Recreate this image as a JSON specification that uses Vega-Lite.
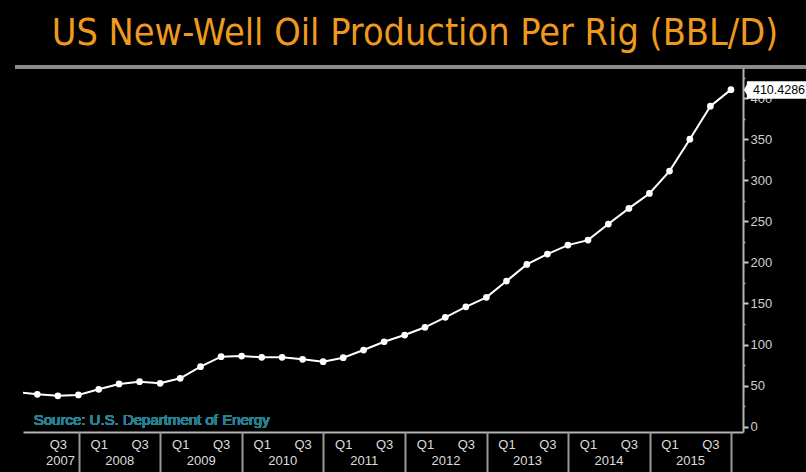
{
  "$schema": "https://vega.github.io/schema/vega-lite/v6.json",
  "width": 720,
  "height": 365,
  "autosize": {"type": "none"},
  "padding": {"left": 23, "top": 67, "right": 63, "bottom": 40},
  "background": "#000000",
  "config": {
    "view": {"stroke": null},
    "axis": {"grid": false, "labelFont": "Liberation Sans", "titleFont": "Liberation Sans"}
  },
  "title": {
    "text": "US New-Well Oil Production Per Rig (BBL/D)",
    "font": "DejaVu Sans Condensed, Liberation Sans",
    "fontSize": 37.5,
    "fontWeight": "normal",
    "color": "#ee9a1e",
    "anchor": "middle",
    "dx": 32,
    "baseline": "alphabetic",
    "offset": -17
  },
  "data": {
    "values": [
      {"quarter": "2007-Q1", "date": "2007-03-31", "bbl": 42.0},
      {"quarter": "2007-Q2", "date": "2007-06-30", "bbl": 39.4},
      {"quarter": "2007-Q3", "date": "2007-09-30", "bbl": 37.5},
      {"quarter": "2007-Q4", "date": "2007-12-31", "bbl": 38.6},
      {"quarter": "2008-Q1", "date": "2008-03-31", "bbl": 45.5},
      {"quarter": "2008-Q2", "date": "2008-06-30", "bbl": 52.0},
      {"quarter": "2008-Q3", "date": "2008-09-30", "bbl": 54.8},
      {"quarter": "2008-Q4", "date": "2008-12-31", "bbl": 52.8},
      {"quarter": "2009-Q1", "date": "2009-03-31", "bbl": 58.9},
      {"quarter": "2009-Q2", "date": "2009-06-30", "bbl": 73.0},
      {"quarter": "2009-Q3", "date": "2009-09-30", "bbl": 85.2},
      {"quarter": "2009-Q4", "date": "2009-12-31", "bbl": 86.0},
      {"quarter": "2010-Q1", "date": "2010-03-31", "bbl": 84.4},
      {"quarter": "2010-Q2", "date": "2010-06-30", "bbl": 84.4},
      {"quarter": "2010-Q3", "date": "2010-09-30", "bbl": 82.0},
      {"quarter": "2010-Q4", "date": "2010-12-31", "bbl": 79.1},
      {"quarter": "2011-Q1", "date": "2011-03-31", "bbl": 84.0},
      {"quarter": "2011-Q2", "date": "2011-06-30", "bbl": 93.3},
      {"quarter": "2011-Q3", "date": "2011-09-30", "bbl": 103.4},
      {"quarter": "2011-Q4", "date": "2011-12-31", "bbl": 111.6},
      {"quarter": "2012-Q1", "date": "2012-03-31", "bbl": 121.0},
      {"quarter": "2012-Q2", "date": "2012-06-30", "bbl": 133.1},
      {"quarter": "2012-Q3", "date": "2012-09-30", "bbl": 146.0},
      {"quarter": "2012-Q4", "date": "2012-12-31", "bbl": 157.5},
      {"quarter": "2013-Q1", "date": "2013-03-31", "bbl": 177.3},
      {"quarter": "2013-Q2", "date": "2013-06-30", "bbl": 197.6},
      {"quarter": "2013-Q3", "date": "2013-09-30", "bbl": 210.2},
      {"quarter": "2013-Q4", "date": "2013-12-31", "bbl": 221.1},
      {"quarter": "2014-Q1", "date": "2014-03-31", "bbl": 227.2},
      {"quarter": "2014-Q2", "date": "2014-06-30", "bbl": 246.7},
      {"quarter": "2014-Q3", "date": "2014-09-30", "bbl": 265.8},
      {"quarter": "2014-Q4", "date": "2014-12-31", "bbl": 284.0},
      {"quarter": "2015-Q1", "date": "2015-03-31", "bbl": 311.2},
      {"quarter": "2015-Q2", "date": "2015-06-30", "bbl": 350.1},
      {"quarter": "2015-Q3", "date": "2015-09-30", "bbl": 390.3},
      {"quarter": "2015-Q4", "date": "2015-12-31", "bbl": 410.4286}
    ]
  },
  "resolve": {"axis": {"x": "independent", "y": "independent"}},
  "layer": [
    {
      "mark": {"type": "line", "color": "#ffffff", "strokeWidth": 2, "clip": true},
      "encoding": {
        "x": {
          "field": "date", "type": "temporal",
          "scale": {"domain": [{"year": 2007, "month": 4, "date": 27}, {"year": 2016, "month": 2, "date": 23}], "nice": false},
          "axis": {
            "orient": "bottom", "title": null,
            "values": [
              {"year": 2007, "month": 9, "date": 30},
              {"year": 2008, "month": 3, "date": 31}, {"year": 2008, "month": 9, "date": 30},
              {"year": 2009, "month": 3, "date": 31}, {"year": 2009, "month": 9, "date": 30},
              {"year": 2010, "month": 3, "date": 31}, {"year": 2010, "month": 9, "date": 30},
              {"year": 2011, "month": 3, "date": 31}, {"year": 2011, "month": 9, "date": 30},
              {"year": 2012, "month": 3, "date": 31}, {"year": 2012, "month": 9, "date": 30},
              {"year": 2013, "month": 3, "date": 31}, {"year": 2013, "month": 9, "date": 30},
              {"year": 2014, "month": 3, "date": 31}, {"year": 2014, "month": 9, "date": 30},
              {"year": 2015, "month": 3, "date": 31}, {"year": 2015, "month": 9, "date": 30}
            ],
            "labelExpr": "month(datum.value) < 6 ? 'Q1' : 'Q3'",
            "ticks": false,
            "domain": true, "domainColor": "#b4b4b4", "domainWidth": 2,
            "labelColor": "#dddddd", "labelFontSize": 13, "labelPadding": 6,
            "labelBaseline": "top", "labelAlign": "center", "labelFlush": false, "labelOverlap": false
          }
        },
        "y": {
          "field": "bbl", "type": "quantitative",
          "scale": {"domain": [-6.5, 438], "nice": false, "zero": false},
          "axis": {
            "orient": "right", "title": null,
            "values": [0, 50, 100, 150, 200, 250, 300, 350, 400],
            "domainColor": "#b4b4b4", "domainWidth": 2,
            "tickColor": "#cccccc", "tickWidth": 2, "tickSize": 5,
            "labelColor": "#d0d0d0", "labelFontSize": 13, "labelPadding": 2,
            "labelFlush": false, "labelOverlap": false
          }
        }
      }
    },
    {
      "mark": {"type": "point", "filled": true, "color": "#ffffff", "size": 45, "opacity": 1, "clip": true},
      "encoding": {
        "x": {"field": "date", "type": "temporal", "axis": null},
        "y": {"field": "bbl", "type": "quantitative", "axis": null}
      }
    },
    {
      "mark": {"type": "point", "opacity": 0},
      "encoding": {
        "x": {
          "field": "date", "type": "temporal",
          "axis": {
            "orient": "bottom", "title": null,
            "values": [
              {"year": 2007, "month": 10, "date": 10},
              {"year": 2008, "month": 7, "date": 1}, {"year": 2009, "month": 7, "date": 1},
              {"year": 2010, "month": 7, "date": 1}, {"year": 2011, "month": 7, "date": 1},
              {"year": 2012, "month": 7, "date": 1}, {"year": 2013, "month": 7, "date": 1},
              {"year": 2014, "month": 7, "date": 1}, {"year": 2015, "month": 7, "date": 1}
            ],
            "labelExpr": "timeFormat(datum.value, '%Y')",
            "ticks": false, "domain": false,
            "labelColor": "#dddddd", "labelFontSize": 13, "labelPadding": 22,
            "labelBaseline": "top", "labelAlign": "center", "labelFlush": false, "labelOverlap": false
          }
        },
        "y": {
          "field": "bbl", "type": "quantitative",
          "axis": {
            "orient": "right", "title": null,
            "values": [25, 75, 125, 175, 225, 275, 325, 375, 425],
            "labels": false, "domain": false,
            "tickColor": "#aaaaaa", "tickWidth": 1.5, "tickSize": 2
          }
        }
      }
    },
    {
      "mark": {"type": "point", "opacity": 0},
      "encoding": {
        "x": {
          "field": "date", "type": "temporal",
          "axis": {
            "orient": "bottom", "title": null,
            "values": [
              {"year": 2008, "month": 1, "date": 1}, {"year": 2009, "month": 1, "date": 1},
              {"year": 2010, "month": 1, "date": 1}, {"year": 2011, "month": 1, "date": 1},
              {"year": 2012, "month": 1, "date": 1}, {"year": 2013, "month": 1, "date": 1},
              {"year": 2014, "month": 1, "date": 1}, {"year": 2015, "month": 1, "date": 1},
              {"year": 2016, "month": 1, "date": 1}
            ],
            "labels": false, "domain": false,
            "ticks": true, "tickSize": 40, "tickWidth": 2, "tickColor": "#9a9a9a"
          }
        },
        "y": {"field": "bbl", "type": "quantitative", "axis": null}
      }
    },
    {
      "mark": {"type": "rule", "color": "#8c8c8c", "strokeWidth": 3, "clip": false},
      "encoding": {
        "x": {"datum": {"year": 2007, "month": 3, "date": 25}, "type": "temporal", "axis": null},
        "x2": {"datum": {"year": 2016, "month": 12, "date": 5}},
        "y": {"datum": 438, "type": "quantitative", "axis": null}
      }
    },
    {
      "mark": {"type": "text", "align": "left", "baseline": "alphabetic", "font": "Liberation Sans", "fontSize": 15, "color": "#2a8193"},
      "encoding": {
        "x": {"datum": {"year": 2007, "month": 6, "date": 14}, "type": "temporal", "axis": null},
        "y": {"datum": 2, "type": "quantitative", "axis": null},
        "text": {"value": "Source: U.S. Department of Energy"}
      }
    },
    {
      "transform": [{"filter": "datum.quarter == '2015-Q4'"}],
      "mark": {"type": "point", "shape": "M0.43,0L0.53,-0.17L0.53,-0.28L2.7,-0.28L2.7,0.3L0.53,0.3L0.53,0.17Z", "size": 3600, "filled": true, "color": "#ffffff", "opacity": 1, "clip": false},
      "encoding": {
        "x": {"field": "date", "type": "temporal", "axis": null},
        "y": {"field": "bbl", "type": "quantitative", "axis": null}
      }
    },
    {
      "transform": [{"filter": "datum.quarter == '2015-Q4'"}],
      "mark": {"type": "text", "align": "left", "baseline": "middle", "dx": 22, "font": "Liberation Sans", "fontSize": 12.5, "color": "#000000", "clip": false},
      "encoding": {
        "x": {"field": "date", "type": "temporal", "axis": null},
        "y": {"field": "bbl", "type": "quantitative", "axis": null},
        "text": {"field": "bbl", "type": "quantitative", "format": ".4f"}
      }
    }
  ]
}
